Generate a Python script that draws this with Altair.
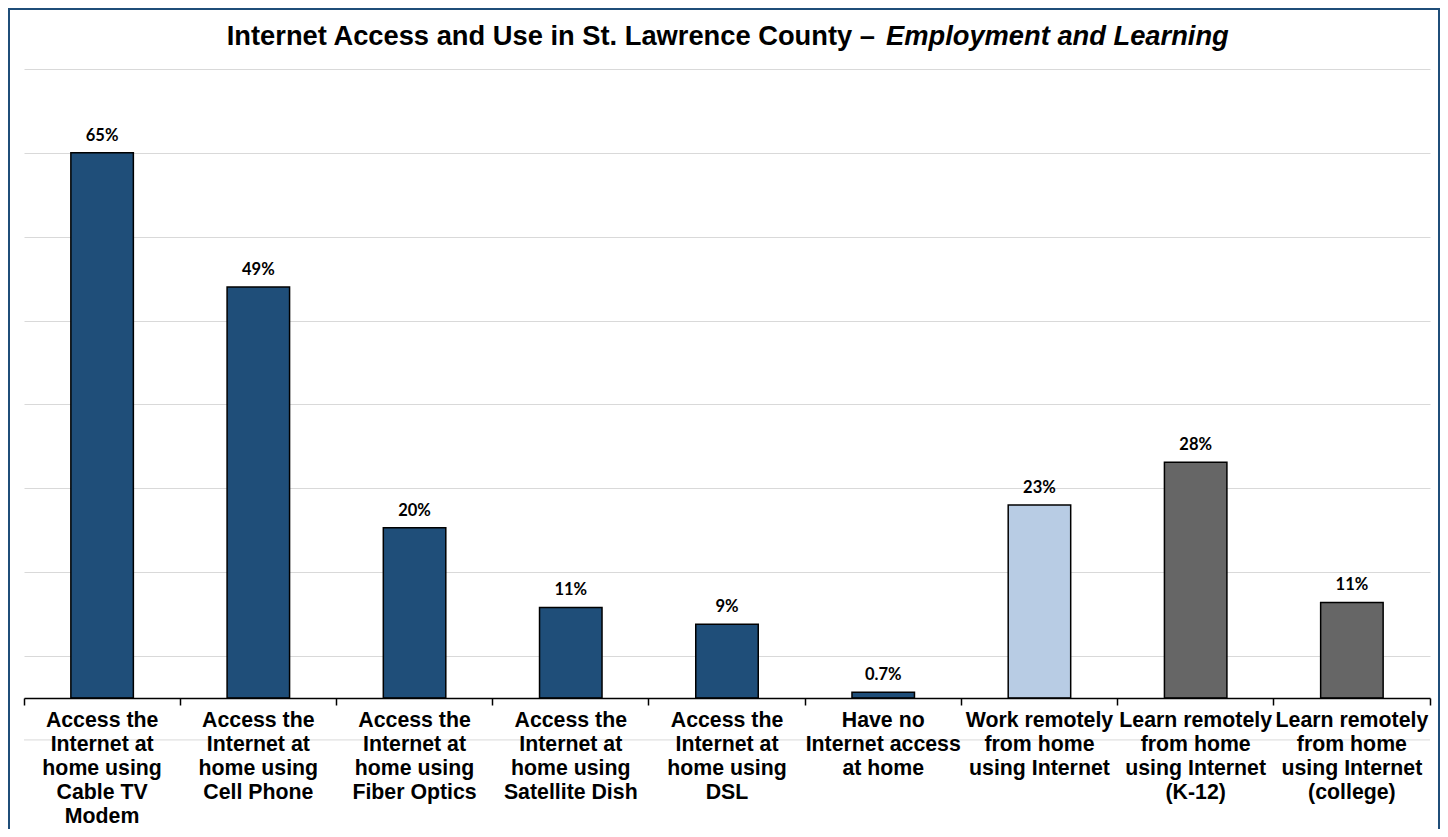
import altair as alt
import pandas as pd

categories = [
    "Access the\nInternet at\nhome using\nCable TV\nModem",
    "Access the\nInternet at\nhome using\nCell Phone",
    "Access the\nInternet at\nhome using\nFiber Optics",
    "Access the\nInternet at\nhome using\nSatellite Dish",
    "Access the\nInternet at\nhome using\nDSL",
    "Have no\nInternet access\nat home",
    "Work remotely\nfrom home\nusing Internet",
    "Learn remotely\nfrom home\nusing Internet\n(K-12)",
    "Learn remotely\nfrom home\nusing Internet\n(college)",
]
values = [65, 49, 20.3, 10.8, 8.8, 0.7, 23, 28.1, 11.4]
value_labels = ["65%", "49%", "20%", "11%", "9%", "0.7%", "23%", "28%", "11%"]
groups = ["access", "access", "access", "access", "access", "access", "work", "learn", "learn"]
grid_values = [5, 15, 25, 35, 45, 55, 65, 75]

title_main = "Internet Access and Use in St. Lawrence County \u2013"
title_italic = "Employment and Learning"

W, H = 1406, 629

df = pd.DataFrame({"cat": categories, "val": values, "lab": value_labels, "grp": groups})

xenc = alt.X(
    "cat:N",
    sort=categories,
    title=None,
    scale=alt.Scale(paddingInner=0, paddingOuter=0),
    axis=alt.Axis(
        labelExpr="isValid(datum.value) ? split(datum.value, '\\n') : ''",
        labelAngle=0,
        labelFont="Liberation Sans",
        labelFontWeight="bold",
        labelFontSize=21.3,
        labelColor="black",
        labelLineHeight=24.2,
        labelBaseline="top",
        labelPadding=4,
        labelLimit=0,
        labelOverlap=False,
        bandPosition=1,
        tickExtra=True,
        tickColor="black",
        tickSize=7,
        tickWidth=1.5,
        domainColor="black",
        domainWidth=1.5,
        grid=False,
        zindex=1,
    ),
)

yenc = alt.Y(
    "val:Q",
    title=None,
    scale=alt.Scale(domain=[0, 75], nice=False, zero=True),
    axis=alt.Axis(
        values=grid_values,
        grid=True,
        gridColor="#D9D9D9",
        gridWidth=1,
        labels=False,
        ticks=False,
        domain=False,
    ),
)

base = alt.Chart(df)

extra_grid = base.mark_rule(color="#D9D9D9", strokeWidth=1).encode(
    y=alt.datum(-5), x=alt.value(0), x2=alt.value(W)
).transform_filter("datum.grp == 'access' && datum.val > 60")

bars = base.mark_bar(
    width=alt.RelativeBandSize(0.4), stroke="black", strokeWidth=1.5
).encode(
    x=xenc,
    y=yenc,
    color=alt.Color(
        "grp:N",
        scale=alt.Scale(domain=["access", "work", "learn"], range=["#1F4E79", "#B8CCE4", "#666666"]),
        legend=None,
    ),
)

texts = base.mark_text(
    font="Lato", fontWeight="bold", fontSize=16.5, color="black", baseline="alphabetic", dy=-12
).encode(x=alt.X("cat:N", sort=categories), y="val:Q", text="lab:N")

title_df = pd.DataFrame({"t1": [title_main], "t2": [title_italic]})
t1 = alt.Chart(title_df).mark_text(
    font="Liberation Sans", fontWeight="bold", fontSize=27.3, color="black", align="right", baseline="alphabetic"
).encode(x=alt.value(851), y=alt.value(-24), text="t1:N")
t2 = alt.Chart(title_df).mark_text(
    font="Liberation Sans", fontWeight="bold", fontStyle="italic", fontSize=27.3, color="black", align="left", baseline="alphabetic"
).encode(x=alt.value(862), y=alt.value(-24), text="t2:N")

border = alt.Chart(title_df).mark_rect(fill=None, stroke="#1F4E79", strokeWidth=2).encode(
    x=alt.value(-15), x2=alt.value(W + 9), y=alt.value(-60), y2=alt.value(H + 200)
)

chart = alt.layer(extra_grid, bars, texts, t1, t2, border).properties(
    width=W,
    height=H,
    autosize=alt.AutoSizeParams(type="none"),
    padding={"left": 16, "top": 61, "right": 10, "bottom": 131},
).configure(background="white").configure_view(stroke=None)

chart.save("out.html", embed_options={"renderer": "svg", "actions": False})
